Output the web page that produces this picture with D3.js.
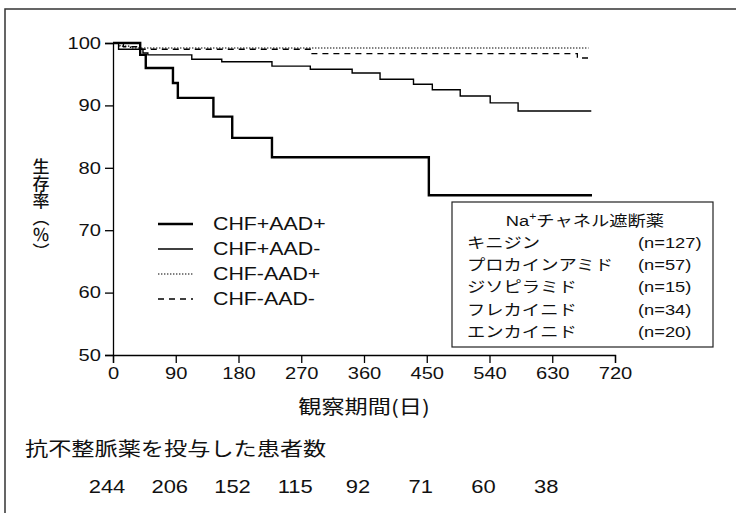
<!DOCTYPE html>
<html>
<head>
<meta charset="utf-8">
<script src="https://cdn.jsdelivr.net/npm/d3@7"></script>
<style>
  html, body { margin: 0; padding: 0; background: #fff; }
  svg { display: block; }
  text { font-family: "Liberation Sans", Arial, sans-serif; fill: #111; }
  .jp { font-family: "Noto Sans CJK JP", sans-serif; }
  .vert { writing-mode: vertical-rl; }
  .sx { transform-box: fill-box; transform: scaleX(1.22); }
  .sx-s { transform-origin: left center; }
  .sx-m { transform-origin: center; }
  .sx-e { transform-origin: right center; }
</style>
</head>
<body>
<div id="chart"></div>
<script>
"use strict";

// ── data ─────────────────────────────────────────────────────────────────────
const seriesNames = ["CHF+AAD+", "CHF+AAD-", "CHF-AAD+", "CHF-AAD-"];

// step points: [day, survival %]
const chfPlusAadPlus = [
  [0, 100], [39, 98.1], [47, 96.0], [86, 93.6], [93, 91.2], [144, 88.2],
  [171, 84.8], [228, 81.7], [453, 75.6], [687, 75.6],
];
const chfPlusAadMinus = [
  [0, 100], [8, 99.0], [43, 98.4], [50, 98.1], [113, 97.4], [156, 97.0],
  [228, 96.3], [283, 95.8], [343, 95.2], [383, 94.2], [431, 93.4],
  [458, 92.5], [498, 91.5], [541, 90.4], [581, 89.1], [686, 89.1],
];
const chfMinusAadPlus = [[0, 100], [10, 99.5], [25, 99.2], [682, 99.2]];
const chfMinusAadMinus = [
  [0, 100], [15, 99.4], [35, 99.0], [283, 98.3], [666, 97.6], [684, 97.6],
];

const xTicks = [0, 90, 180, 270, 360, 450, 540, 630, 720];
const yTicks = [50, 60, 70, 80, 90, 100];

const drugNames  = ["キニジン", "プロカインアミド", "ジソピラミド", "フレカイニド", "エンカイニド"];
const drugCounts = ["(n=127)", "(n=57)", "(n=15)", "(n=34)", "(n=20)"];

const atRiskDays   = [0, 90, 180, 270, 360, 450, 540, 630];
const atRiskCounts = [244, 206, 152, 115, 92, 71, 60, 38];

// ── styles per series ────────────────────────────────────────────────────────
const seriesStyle = [
  { width: 2.4, dash: null },
  { width: 1.4, dash: null },
  { width: 1.2, dash: "1.4,1.6" },
  { width: 1.3, dash: "6,5" },
];

const W = 736, H = 513;
const svg = d3.select("#chart").append("svg").attr("width", W).attr("height", H);

// frame (top + left edge only)
svg.append("path")
  .attr("d", `M5,${H}V9H${W}`)
  .attr("fill", "none").attr("stroke", "#333").attr("stroke-width", 1.5);

const x = d3.scaleLinear().domain([0, 720]).range([113, 615]);
const y = d3.scaleLinear().domain([50, 100]).range([355, 43]);

// Axes
const gx = svg.append("g").attr("transform", `translate(0,${y(50)})`)
  .call(d3.axisBottom(x).tickValues(xTicks).tickSize(8).tickPadding(4));
const gy = svg.append("g").attr("transform", `translate(${x(0)},0)`)
  .call(d3.axisLeft(y).tickValues(yTicks).tickSize(8).tickPadding(4));

[gx, gy].forEach(g => {
  g.selectAll("path, line").attr("stroke", "#000").attr("stroke-width", 1.3);
  g.selectAll("text")
    .attr("font-family", "Liberation Sans, Arial, sans-serif")
    .attr("font-size", 16.5).attr("fill", "#111");
});
gx.selectAll("text").attr("class", "sx sx-m");
gy.selectAll("text").attr("class", "sx sx-e");

// Curves
const line = d3.line()
  .x(d => x(d[0]))
  .y(d => y(d[1]))
  .curve(d3.curveStepAfter);

const seriesData = [chfPlusAadPlus, chfPlusAadMinus, chfMinusAadPlus, chfMinusAadMinus];
const drawOrder = [3, 2, 1, 0];
drawOrder.forEach(i => {
  svg.append("path").datum(seriesData[i])
    .attr("fill", "none")
    .attr("stroke", "#000")
    .attr("stroke-width", seriesStyle[i].width)
    .attr("stroke-dasharray", seriesStyle[i].dash)
    .attr("d", line);
});

// Legend (line styles)
const legend = svg.append("g");
seriesNames.forEach((name, i) => {
  const cy = 224 + i * 25;
  legend.append("line")
    .attr("x1", 158).attr("x2", 193).attr("y1", cy).attr("y2", cy)
    .attr("stroke", "#000")
    .attr("stroke-width", seriesStyle[i].width)
    .attr("stroke-dasharray", seriesStyle[i].dash);
  legend.append("text")
    .attr("class", "sx sx-s")
    .attr("x", 213).attr("y", cy + 6)
    .attr("font-size", 17.5)
    .text(name);
});

// Drug box
const box = svg.append("g");
box.append("rect")
  .attr("x", 452).attr("y", 202).attr("width", 261).attr("height", 145)
  .attr("fill", "#fff").attr("stroke", "#222").attr("stroke-width", 1.2);

const title = box.append("text")
  .attr("class", "sx sx-m")
  .attr("x", 585).attr("y", 226)
  .attr("text-anchor", "middle")
  .attr("font-size", 15);
title.append("tspan").text("Na");
title.append("tspan").attr("font-size", 10).attr("dy", -6).text("+");
title.append("tspan").attr("class", "jp").attr("dy", 6).text("チャネル遮断薬");

drugNames.forEach((name, i) => {
  const cy = 243 + i * 22.2;
  box.append("text")
    .attr("class", "jp sx sx-s")
    .attr("x", 467).attr("y", cy + 5)
    .attr("font-size", 15)
    .text(name);
  box.append("text")
    .attr("class", "sx sx-s")
    .attr("x", 638).attr("y", cy + 5)
    .attr("font-size", 15)
    .text(drugCounts[i]);
});

// Y axis title (vertical writing)
svg.append("text")
  .attr("class", "jp vert")
  .attr("x", 41).attr("y", 209)
  .attr("text-anchor", "middle")
  .attr("font-size", 17)
  .attr("font-weight", 500)
  .text("生存率（％）");

// X axis title
svg.append("text")
  .attr("class", "jp sx sx-m")
  .attr("x", (x(0) + x(720)) / 2).attr("y", 414)
  .attr("text-anchor", "middle").attr("font-size", 19)
  .text("観察期間(日)");

// Patients at risk
svg.append("text")
  .attr("class", "jp sx sx-s")
  .attr("x", 25).attr("y", 456)
  .attr("font-size", 19)
  .text("抗不整脈薬を投与した患者数");

atRiskCounts.forEach((n, i) => {
  svg.append("text")
    .attr("class", "sx sx-m")
    .attr("x", x(atRiskDays[i]) - 6).attr("y", 493)
    .attr("text-anchor", "middle").attr("font-size", 18)
    .text(n);
});
</script>
</body>
</html>
